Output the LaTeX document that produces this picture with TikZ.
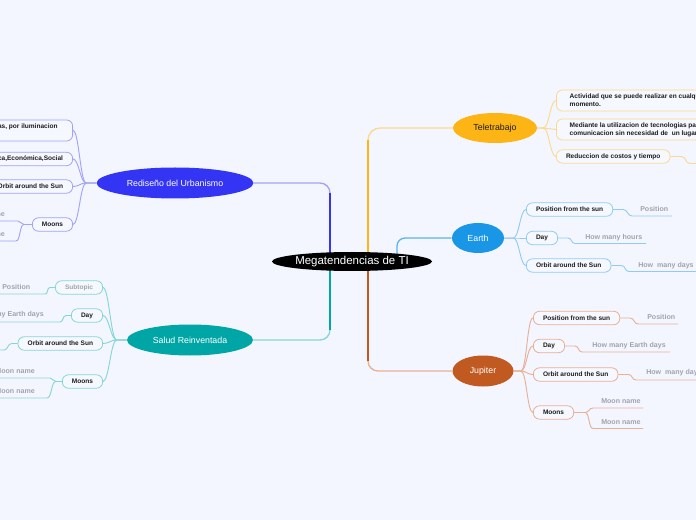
\documentclass[tikz,border=0pt]{standalone}
\usepackage{fontspec}
\setmainfont{Liberation Sans}
\usetikzlibrary{shapes.geometric,calc}
\pgfdeclarelayer{edges}
\pgfsetlayers{edges,main}
\definecolor{bgc}{HTML}{F3F6FE}
\definecolor{boxbg}{HTML}{F6F8FF}
\definecolor{txt}{HTML}{1C1C1C}
\definecolor{gtxt}{HTML}{A2A3AC}
\definecolor{redc}{HTML}{3434F5}
\definecolor{redl}{HTML}{A3A3F7}
\definecolor{salc}{HTML}{00A6A6}
\definecolor{sall}{HTML}{86D6D6}
\definecolor{telc}{HTML}{FDB515}
\definecolor{tell}{HTML}{FBD98E}
\definecolor{earc}{HTML}{1A96E6}
\definecolor{earl}{HTML}{92CBF2}
\definecolor{jupc}{HTML}{C05A20}
\definecolor{jupl}{HTML}{E8B096}
\tikzset{
  mainell/.style={ellipse, inner sep=0pt, font=\fontsize{6.6}{8}\selectfont, text=white},
  subbox/.style={rectangle, rounded corners=4.5pt, fill=boxbg, line width=0.6pt, inner xsep=7.2pt, inner ysep=1pt, minimum height=10pt, font=\fontsize{4.9}{6}\selectfont\bfseries, text=txt},
  twobox/.style={subbox, inner xsep=10pt, minimum height=15.75pt, align=left},
  graytext/.style={inner sep=0pt, font=\fontsize{5.3}{6.4}\selectfont\bfseries, text=gtxt},
  subline/.style={line width=0.7pt},
  mainline/.style={line width=1pt},
  vline/.style={line width=1.5pt}
}
\begin{document}
\begin{tikzpicture}[x=0.75pt,y=-0.75pt]
\useasboundingbox (0,0) rectangle (696,520);
\begin{scope}
\clip (0,0) rectangle (696,520);
% central
\node[ellipse, fill=black, minimum width=120pt, minimum height=14.25pt, inner sep=0pt,
  label={[text=white,font=\fontsize{8.6}{10}\selectfont]center:Megatendencias de TI}] (cen) at (352,261.5) {};
% main topics
\node[mainell, fill=redc, minimum width=117.75pt, minimum height=23.25pt] (red) at (175,183) {Rediseño del Urbanismo};
\node[mainell, fill=salc, minimum width=94.5pt, minimum height=23.25pt] (sal) at (190,340) {Salud Reinventada};
\node[mainell, fill=telc, text=txt, minimum width=63pt, minimum height=22.5pt] (tel) at (495,128) {Teletrabajo};
\node[mainell, fill=earc, minimum width=39pt, minimum height=22.5pt] (ear) at (478,238) {Earth};
\node[mainell, fill=jupc, minimum width=45.75pt, minimum height=23.25pt] (jup) at (483,371) {Jupiter};
% Teletrabajo
\node[twobox, draw=tell, anchor=west] (t1) at (556,100.5) {Actividad que se puede realizar en cualquier lugar y en cualquier\\momento.};
\node[twobox, draw=tell, anchor=west] (t2) at (556,129.5) {Mediante la utilizacion de tecnologias para la\\comunicacion sin necesidad de\ \ un lugar fijo.};
\node[subbox, draw=tell, anchor=west] (t3) at (556,156.5) {Reduccion de costos y tiempo};
% Earth
\node[subbox, draw=earl, anchor=west] (e1) at (526,209.5) {Position from the sun};
\node[subbox, draw=earl, anchor=west] (e2) at (526,238) {Day};
\node[subbox, draw=earl, anchor=west] (e3) at (526,265.5) {Orbit around the Sun};
\node[graytext, anchor=west] (e1g) at (640,209) {Position};
\node[graytext, anchor=west] (e2g) at (585,237.5) {How many hours};
\node[graytext, anchor=west] (e3g) at (638,265.5) {How\ \ many days};
% Jupiter
\node[subbox, draw=jupl, anchor=west] (j1) at (533,318) {Position from the sun};
\node[subbox, draw=jupl, anchor=west] (j2) at (533,346) {Day};
\node[subbox, draw=jupl, anchor=west] (j3) at (533,374.5) {Orbit around the Sun};
\node[subbox, draw=jupl, anchor=west] (j4) at (533,412.5) {Moons};
\node[graytext, anchor=west] (j1g) at (647,317) {Position};
\node[graytext, anchor=west] (j2g) at (592,345.5) {How many Earth days};
\node[graytext, anchor=west] (j3g) at (646,373) {How\ \ many days};
\node[graytext, anchor=west] (j4g1) at (601,401) {Moon name};
\node[graytext, anchor=west] (j4g2) at (601,422.5) {Moon name};
% Rediseno
\node[twobox, draw=redl, anchor=east, inner xsep=11.25pt] (r1) at (73,130.5) {Mejoras con nuevas tecnologías, por iluminacion\\y movilidad};
\node[subbox, draw=redl, anchor=east] (r2) at (73,159) {Sostenibilidad Ecológica,Económica,Social};
\node[subbox, draw=redl, anchor=east] (r3) at (73,186.5) {Orbit around the Sun};
\node[subbox, draw=redl, anchor=east] (r4) at (73,224.5) {Moons};
\node[graytext, anchor=east] (r4g1) at (5,214.5) {Moon name};
\node[graytext, anchor=east] (r4g2) at (5,234.5) {Moon name};
% Salud
\node[subbox, draw=sall, anchor=east, text=gtxt] (s1) at (103,287.5) {Subtopic};
\node[subbox, draw=sall, anchor=east] (s2) at (103,315.5) {Day};
\node[subbox, draw=sall, anchor=east] (s3) at (103,343.5) {Orbit around the Sun};
\node[subbox, draw=sall, anchor=east] (s4) at (103,381.5) {Moons};
\node[graytext, anchor=west] (s1g) at (2,287) {Position};
\node[graytext, anchor=east] (s2g) at (44,315) {How many Earth days};
\node[graytext, anchor=east] (s4g1) at (35,371.5) {Moon name};
\node[graytext, anchor=east] (s4g2) at (35,391.5) {Moon name};
\end{scope}

\begin{pgfonlayer}{edges}
\fill[bgc] (0,0) rectangle (696,520);
\clip (0,0) rectangle (696,520);
% underline coordinates
\coordinate (e1a) at (632,216); \coordinate (e1b) at (672,216);
\coordinate (e2a) at (575,243.5); \coordinate (e2b) at (646,243.5);
\coordinate (e3a) at (629,271.5); \coordinate (e3b) at (720,271.5);
\coordinate (j1a) at (638,324); \coordinate (j1b) at (678,324);
\coordinate (j2a) at (582,352); \coordinate (j2b) at (670,352);
\coordinate (j3a) at (636,380); \coordinate (j3b) at (720,380);
\coordinate (j4a) at (593,408); \coordinate (j4b) at (643,408);
\coordinate (j4c) at (593,428.5); \coordinate (j4d) at (643,428.5);
\coordinate (t3a) at (690,163.5); \coordinate (t3b) at (720,163.5);
\coordinate (r4a) at (18,221); \coordinate (r4b) at (-20,221);
\coordinate (r4c) at (16,241); \coordinate (r4d) at (-20,241);
\coordinate (s1a) at (45,294); \coordinate (s1b) at (-20,294);
\coordinate (s2a) at (60,322); \coordinate (s2b) at (-20,322);
\coordinate (s3a) at (4,350); \coordinate (s3b) at (-20,350);
\coordinate (s4a) at (50,378); \coordinate (s4b) at (-20,378);
\coordinate (s4c) at (47,398); \coordinate (s4d) at (-20,398);
% main connectors
\coordinate (cl) at ($(cen.center)+(-22,0)$);
\coordinate (cr) at ($(cen.center)+(16,0)$);
\coordinate (ce) at ($(cen.center)+(45,0)$);
\draw[mainline, redl, rounded corners=7.5pt] (cl) |- (red.east);
\draw[vline, redc] (cl) -- ($(cl |- red.east)+(0,10)$);
\draw[mainline, sall, rounded corners=7.5pt] (cl) |- (sal.east);
\draw[vline, salc] (cl) -- ($(cl |- sal.east)+(0,-10)$);
\draw[mainline, tell, rounded corners=9pt] (cr) |- (tel.west);
\draw[vline, telc] (cr) -- ($(cr |- tel.west)+(0,12)$);
\draw[mainline, jupl, rounded corners=7.5pt] (cr) |- (jup.west);
\draw[vline, jupc] (cr) -- ($(cr |- jup.west)+(0,-10)$);
\draw[mainline, earc!70!bgc, rounded corners=6pt] (ce) |- (ear.west);
% Teletrabajo branches
\foreach \n in {t1,t2,t3}
  \draw[subline, tell] (tel.east) -- ++(6,0) .. controls +(6,0) and +(-6,0) .. (\n.west);
\draw[subline, tell] (t3.east) -- ++(11,0) .. controls +(5,0) and +(-5,0) .. (t3a) -- (t3b);
% Earth branches
\foreach \n in {e1,e2,e3}
  \draw[subline, earl] (ear.east) -- ++(9,0) .. controls +(6,0) and +(-6,0) .. (\n.west);
\draw[subline, earl] (e1.east) -- ++(10,0) .. controls +(4.5,0) and +(-4.5,0) .. (e1a) -- (e1b);
\draw[subline, earl] (e2.east) -- ++(10,0) .. controls +(4,0) and +(-4,0) .. (e2a) -- (e2b);
\draw[subline, earl] (e3.east) -- ++(10,0) .. controls +(4.5,0) and +(-4.5,0) .. (e3a) -- (e3b);
% Jupiter branches
\foreach \n in {j1,j2,j3,j4}
  \draw[subline, jupl] (jup.east) -- ++(7,0) .. controls +(6,0) and +(-6,0) .. (\n.west);
\draw[subline, jupl] (j1.east) -- ++(10,0) .. controls +(4,0) and +(-4,0) .. (j1a) -- (j1b);
\draw[subline, jupl] (j2.east) -- ++(10,0) .. controls +(4,0) and +(-4,0) .. (j2a) -- (j2b);
\draw[subline, jupl] (j3.east) -- ++(10,0) .. controls +(4.5,0) and +(-4.5,0) .. (j3a) -- (j3b);
\draw[subline, jupl] (j4.east) -- ++(11,0) .. controls +(4.5,0) and +(-4.5,0) .. (j4a) -- (j4b);
\draw[subline, jupl] (j4.east) -- ++(11,0) .. controls +(4.5,0) and +(-4.5,0) .. (j4c) -- (j4d);
% Rediseno branches
\foreach \n in {r1,r2,r3,r4}
  \draw[subline, redl] (red.west) -- ++(-10,0) .. controls +(-6,0) and +(6,0) .. (\n.east);
\draw[subline, redl] (r4.west) -- ++(-8,0) .. controls +(-3.5,0) and +(3.5,0) .. (r4a) -- (r4b);
\draw[subline, redl] (r4.west) -- ++(-8,0) .. controls +(-4.5,0) and +(4.5,0) .. (r4c) -- (r4d);
% Salud branches
\foreach \n in {s1,s2,s3,s4}
  \draw[subline, sall] (sal.west) -- ++(-10,0) .. controls +(-6,0) and +(6,0) .. (\n.east);
\draw[subline, sall] (s1.west) -- ++(-5,0) .. controls +(-3.5,0) and +(3.5,0) .. (s1a) -- (s1b);
\draw[subline, sall] (s2.west) -- ++(-5,0) .. controls +(-3.5,0) and +(3.5,0) .. (s2a) -- (s2b);
\draw[subline, sall] (s3.west) -- ++(-6,0) .. controls +(-4,0) and +(4,0) .. (s3a) -- (s3b);
\draw[subline, sall] (s4.west) -- ++(-6,0) .. controls +(-3.5,0) and +(3.5,0) .. (s4a) -- (s4b);
\draw[subline, sall] (s4.west) -- ++(-6,0) .. controls +(-5,0) and +(5,0) .. (s4c) -- (s4d);
\end{pgfonlayer}
\end{tikzpicture}
\end{document}
